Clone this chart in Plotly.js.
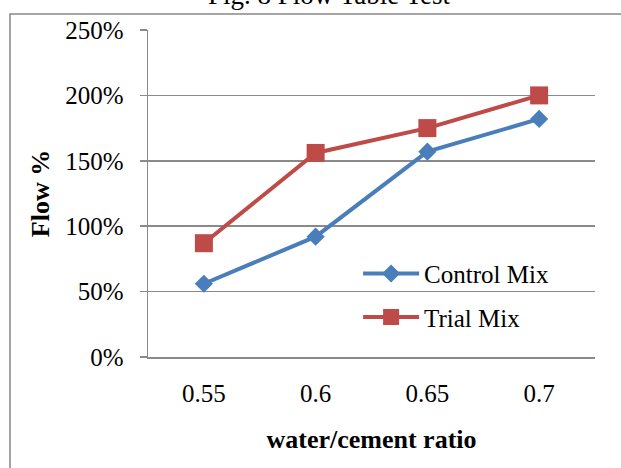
<!DOCTYPE html>
<html>
<head>
<meta charset="utf-8">
<script src="https://cdn.plot.ly/plotly-3.0.1.min.js"></script>
<style>
  html, body { margin: 0; padding: 0; background: #ffffff; }
  #chart { width: 621px; height: 468px; }
</style>
</head>
<body>
<div id="chart"></div>
<script>
// Flow table results for each water/cement ratio
const ratios = ['0.55', '0.6', '0.65', '0.7'];
const controlMix = [0.56, 0.92, 1.57, 1.82];
const trialMix = [0.87, 1.56, 1.75, 2.00];
const yTicks = [0, 0.5, 1, 1.5, 2, 2.5];
const yTickText = ['0%', '50%', '100%', '150%', '200%', '250%'];
const figTitle = 'Fig. 8 Flow Table Test';

const W = 621, H = 468;
const M = { l: 148, r: 26, t: 30, b: 111 };
const pw = W - M.l - M.r, ph = H - M.t - M.b;

const serif = 'Liberation Serif, Times New Roman, serif';
const gridCol = '#8a8a8a';

const traces = [
  {
    x: ratios, y: controlMix, name: 'Control Mix', type: 'scatter', mode: 'lines+markers',
    legendgroup: 'a',
    line: { color: '#4A7EBB', width: 4 },
    marker: { symbol: 'diamond', size: 14, color: '#4A7EBB' }
  },
  {
    x: ratios, y: trialMix, name: 'Trial Mix', type: 'scatter', mode: 'lines+markers',
    legendgroup: 'b',
    line: { color: '#BE4B48', width: 4 },
    marker: { symbol: 'square', size: 18, color: '#BE4B48' }
  }
];

const layout = {
  width: W, height: H,
  margin: M,
  paper_bgcolor: '#ffffff', plot_bgcolor: '#ffffff',
  font: { family: serif, size: 25, color: '#000000' },
  xaxis: {
    type: 'category',
    range: [-0.5, ratios.length - 0.5],
    showgrid: false,
    showline: true, linecolor: gridCol, linewidth: 1.5,
    ticks: '', ticklen: 0,
    ticklabelstandoff: 13,
    tickfont: { family: serif, size: 25 },
    title: { text: '<b>water/cement ratio</b>', font: { family: serif, size: 26 }, standoff: 24 },
    fixedrange: true, zeroline: false
  },
  yaxis: {
    range: [0, 2.5],
    tickvals: yTicks, ticktext: yTickText,
    showgrid: true, gridcolor: gridCol, gridwidth: 1.5,
    showline: true, linecolor: gridCol, linewidth: 1.5,
    ticks: 'outside', ticklen: 7, tickcolor: gridCol, tickwidth: 1.5,
    ticklabelstandoff: 11,
    tickfont: { family: serif, size: 25 },
    title: { text: '<b>Flow %</b>', font: { family: serif, size: 26 }, standoff: 8 },
    zeroline: false, fixedrange: true
  },
  legend: {
    x: 0.47, xanchor: 'left',
    y: 0.325, yanchor: 'top',
    bgcolor: 'rgba(0,0,0,0)',
    font: { family: serif, size: 25 },
    traceorder: 'grouped', tracegroupgap: 8,
    itemwidth: 56
  },
  showlegend: true,
  annotations: [
    // figure caption sitting on the frame's top edge
    {
      text: figTitle, showarrow: false,
      xref: 'paper', yref: 'paper',
      x: (329 - M.l) / pw, xanchor: 'center',
      y: 1 + (M.t - 12) / ph, yanchor: 'bottom',
      font: { family: serif, size: 27, color: '#000000' }
    }
  ],
  shapes: [
    // chart frame around the whole figure
    {
      type: 'rect', xref: 'paper', yref: 'paper',
      x0: (10 - M.l) / pw, x1: (W + 20 - M.l) / pw,
      y0: -(H + 20 - M.t - ph) / ph, y1: 1 + (M.t - 14) / ph,
      line: { color: '#888888', width: 1.5 }, fillcolor: 'rgba(0,0,0,0)',
      layer: 'below'
    }
  ]
};

Plotly.newPlot('chart', traces, layout, { displayModeBar: false, staticPlot: true });
</script>
</body>
</html>
